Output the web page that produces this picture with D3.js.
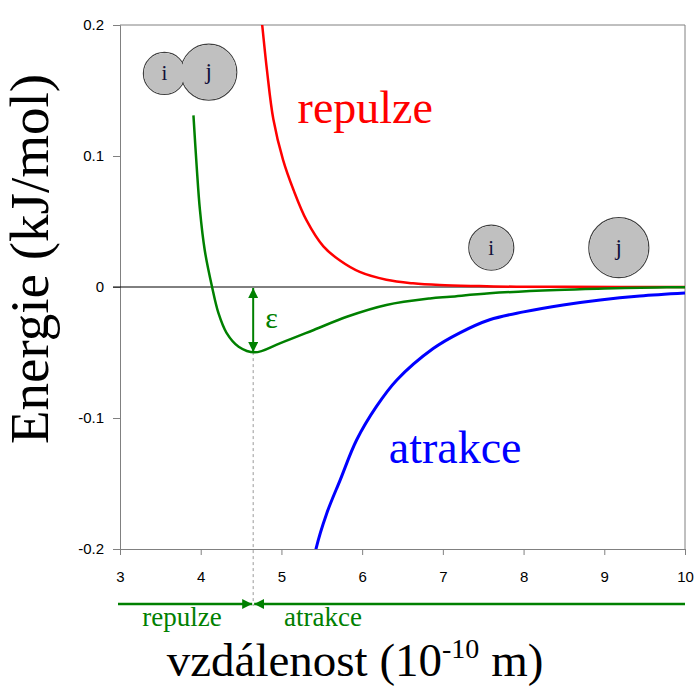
<!DOCTYPE html>
<html>
<head>
<meta charset="utf-8">
<script src="https://cdn.jsdelivr.net/npm/d3@7"></script>
<style>
  body { margin: 0; background: #fff; }
  svg { display: block; }
</style>
</head>
<body>
<svg id="chart" width="697" height="688"></svg>
<script>
// axis values
const xTicks = [3, 4, 5, 6, 7, 8, 9, 10];
const yTicks = [-0.2, -0.1, 0, 0.1, 0.2];
const yTickLabels = ["-0.2", "-0.1", "0", "0.1", "0.2"];

// repulsion curve (red)
const repR = [4.74, 4.76, 4.82, 4.90, 5.02, 5.15, 5.31, 5.52, 5.73, 5.97, 6.30, 6.63, 6.96, 7.45, 7.91, 8.5, 9.2, 10];
const repE = [0.212, 0.201, 0.166, 0.128, 0.097, 0.074, 0.051, 0.031, 0.020, 0.0115, 0.0055, 0.0028, 0.0015, 0.0007, 0.0002, 0.0001, 0, 0];

// attraction curve (blue)
const attR = [5.40, 5.43, 5.56, 5.73, 5.93, 6.18, 6.43, 6.88, 7.21, 7.58, 8.00, 8.49, 8.95, 9.44, 10];
const attE = [-0.21, -0.1995, -0.173, -0.147, -0.117, -0.091, -0.071, -0.047, -0.035, -0.025, -0.019, -0.0137, -0.0099, -0.0069, -0.0046];

// total potential (green)
const totR = [3.91, 3.95, 3.99, 4.05, 4.14, 4.22, 4.32, 4.47, 4.67, 4.98, 5.40, 5.81, 6.30, 6.84, 7.09, 7.58, 8.41, 9.0, 9.65, 10];
const totE = [0.131, 0.092, 0.059, 0.028, 0.0002, -0.020, -0.035, -0.0456, -0.0499, -0.043, -0.0328, -0.0227, -0.0137, -0.0087, -0.0074, -0.0048, -0.0023, -0.0012, -0.0003, -0.0001];

// position of the minimum and its depth
const rMin = 4.65;
const eps = -0.0497;

// labels
const curveLabels = [
  { text: "repulze", r: 5.2, e: 0.125, color: "#ff0000" },
  { text: "atrakce", r: 6.33, e: -0.134, color: "#0000ff" }
];
const atoms = [
  { name: "i", r: 3.55, e: 0.163, rad: 21 },
  { name: "j", r: 4.1, e: 0.164, rad: 28 },
  { name: "i", r: 7.6, e: 0.030, rad: 22.5 },
  { name: "j", r: 9.18, e: 0.030, rad: 30 }
];

const svg = d3.select("#chart");
const margin = { left: 120, right: 12, top: 25, bottom: 139 };
const W = 697, H = 688;

const x = d3.scaleLinear().domain([3, 10]).range([margin.left, W - margin.right]);
const y = d3.scaleLinear().domain([-0.2, 0.2]).range([H - margin.bottom, margin.top]);

const axisColor = "#808080";
const green = "#008000";
const serif = "Liberation Serif, Times New Roman, serif";
const sans = "Liberation Sans, Arial, sans-serif";

const defs = svg.append("defs");
defs.append("clipPath").attr("id", "plot-clip")
  .append("rect")
  .attr("x", x(3)).attr("y", y(0.2))
  .attr("width", x(10) - x(3)).attr("height", y(-0.2) - y(0.2));

// arrow heads
defs.append("marker")
  .attr("id", "head")
  .attr("viewBox", "0 0 10 10")
  .attr("refX", 10).attr("refY", 5)
  .attr("markerWidth", 10).attr("markerHeight", 10)
  .attr("markerUnits", "userSpaceOnUse")
  .attr("orient", "auto-start-reverse")
  .append("path")
  .attr("d", "M0,0 L10,5 L0,10 Z")
  .attr("fill", green);

// frame: top and right
svg.append("path")
  .attr("d", `M${x(3)},${y(0.2)} H${x(10)} V${y(-0.2)}`)
  .attr("fill", "none")
  .attr("stroke", axisColor)
  .attr("stroke-width", 1);

// y axis
const yAxis = d3.axisLeft(y)
  .tickValues(yTicks)
  .tickFormat((d, i) => yTickLabels[i])
  .tickSizeOuter(0)
  .tickSize(7)
  .tickPadding(9);
const gy = svg.append("g").attr("transform", `translate(${x(3)},0)`).call(yAxis);
gy.select(".domain").attr("stroke", axisColor);
gy.selectAll(".tick line").attr("stroke", axisColor);
gy.selectAll("text")
  .attr("font-family", sans)
  .attr("font-size", 15)
  .attr("fill", "#000");

// x axis
const xAxis = d3.axisBottom(x)
  .tickValues(xTicks)
  .tickFormat(d3.format("d"))
  .tickSizeOuter(0)
  .tickSize(6)
  .tickPadding(16);
const gx = svg.append("g").attr("transform", `translate(0,${y(-0.2)})`).call(xAxis);
gx.select(".domain").attr("stroke", axisColor);
gx.selectAll(".tick line").attr("stroke", axisColor);
gx.selectAll("text")
  .attr("font-family", sans)
  .attr("font-size", 15)
  .attr("fill", "#000");

// zero line
svg.append("line")
  .attr("x1", x(3) - 7).attr("x2", x(10))
  .attr("y1", y(0)).attr("y2", y(0))
  .attr("stroke", "#000")
  .attr("stroke-width", 1);

// dashed line from minimum down to the arrows
svg.append("line")
  .attr("x1", x(rMin)).attr("x2", x(rMin))
  .attr("y1", y(eps)).attr("y2", 606)
  .attr("stroke", "#999")
  .attr("stroke-dasharray", "3,3");

// curves
const line = d3.line()
  .x(d => x(d[0]))
  .y(d => y(d[1]))
  .curve(d3.curveCatmullRom.alpha(0.5));

const plot = svg.append("g").attr("clip-path", "url(#plot-clip)");

plot.append("path")
  .datum(repR.map((r, i) => [r, repE[i]]))
  .attr("d", line)
  .attr("fill", "none")
  .attr("stroke", "#ff0000")
  .attr("stroke-width", 2.5);

plot.append("path")
  .datum(attR.map((r, i) => [r, attE[i]]))
  .attr("d", line)
  .attr("fill", "none")
  .attr("stroke", "#0000ff")
  .attr("stroke-width", 3);

plot.append("path")
  .datum(totR.map((r, i) => [r, totE[i]]))
  .attr("d", line)
  .attr("fill", "none")
  .attr("stroke", green)
  .attr("stroke-width", 2.5);

// epsilon arrow
svg.append("line")
  .attr("x1", x(rMin)).attr("x2", x(rMin))
  .attr("y1", y(0) + 1).attr("y2", y(eps))
  .attr("stroke", green)
  .attr("stroke-width", 2)
  .attr("marker-start", "url(#head)")
  .attr("marker-end", "url(#head)");

svg.append("text")
  .attr("x", x(rMin) + 12)
  .attr("y", y(-0.031))
  .attr("font-family", serif)
  .attr("font-size", 30)
  .attr("fill", green)
  .text("ε");

// curve labels
svg.selectAll(".curve-label")
  .data(curveLabels)
  .join("text")
  .attr("class", "curve-label")
  .attr("x", d => x(d.r))
  .attr("y", d => y(d.e))
  .attr("font-family", serif)
  .attr("font-size", 46)
  .attr("fill", d => d.color)
  .text(d => d.text);

// atoms: outlines first, then fills, so overlapping pairs show one outline
const atomG = svg.append("g");
atomG.selectAll(".atom-outline")
  .data(atoms)
  .join("circle")
  .attr("class", "atom-outline")
  .attr("cx", d => x(d.r))
  .attr("cy", d => y(d.e))
  .attr("r", d => d.rad)
  .attr("fill", "none")
  .attr("stroke", "#404040")
  .attr("stroke-width", 1.2);
atomG.selectAll(".atom-fill")
  .data(atoms)
  .join("circle")
  .attr("class", "atom-fill")
  .attr("cx", d => x(d.r))
  .attr("cy", d => y(d.e))
  .attr("r", d => d.rad - 0.6)
  .attr("fill", "#c0c0c0");
atomG.selectAll("text")
  .data(atoms)
  .join("text")
  .attr("x", d => x(d.r))
  .attr("y", d => y(d.e) + 7)
  .attr("text-anchor", "middle")
  .attr("font-family", serif)
  .attr("font-size", d => d.rad > 25 ? 23 : 21)
  .attr("fill", "#10103a")
  .text(d => d.name);

// repulsion / attraction ranges under the axis
const arrowY = 604;
svg.append("line")
  .attr("x1", x(3) - 2).attr("x2", x(rMin) - 1)
  .attr("y1", arrowY).attr("y2", arrowY)
  .attr("stroke", green)
  .attr("stroke-width", 2.5)
  .attr("marker-end", "url(#head)");
svg.append("line")
  .attr("x1", x(10)).attr("x2", x(rMin) + 1)
  .attr("y1", arrowY).attr("y2", arrowY)
  .attr("stroke", green)
  .attr("stroke-width", 2.5)
  .attr("marker-end", "url(#head)");

svg.append("text")
  .attr("x", 182).attr("y", 626)
  .attr("text-anchor", "middle")
  .attr("font-family", serif)
  .attr("font-size", 27)
  .attr("fill", green)
  .text("repulze");
svg.append("text")
  .attr("x", 323).attr("y", 626)
  .attr("text-anchor", "middle")
  .attr("font-family", serif)
  .attr("font-size", 27)
  .attr("fill", green)
  .text("atrakce");

// axis titles
const xTitle = svg.append("text")
  .attr("x", 355).attr("y", 676)
  .attr("text-anchor", "middle")
  .attr("font-family", serif)
  .attr("font-size", 47)
  .attr("fill", "#000");
xTitle.append("tspan").text("vzdálenost (10");
xTitle.append("tspan").attr("font-size", 28).attr("dy", -18).text("-10");
xTitle.append("tspan").attr("dy", 18).text(" m)");

svg.append("text")
  .attr("transform", "translate(48,259) rotate(-90)")
  .attr("text-anchor", "middle")
  .attr("font-family", serif)
  .attr("font-size", 55)
  .attr("fill", "#000")
  .text("Energie (kJ/mol)");
</script>
</body>
</html>
